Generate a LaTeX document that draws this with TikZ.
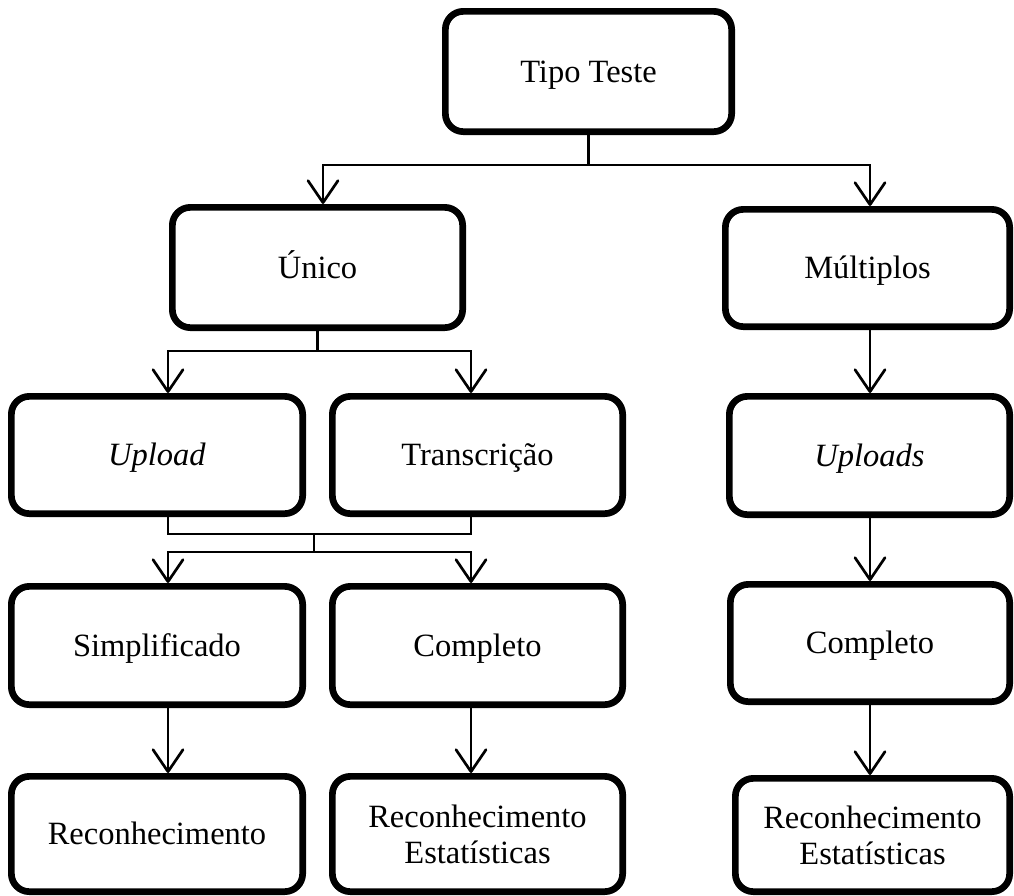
\documentclass[tikz,border=0pt]{standalone}
\usepackage{fontspec}
\setmainfont{Liberation Serif}
\usetikzlibrary{arrows.meta,calc}
\begin{document}
\begin{tikzpicture}[x=1pt,y=-1pt,
  box/.style={draw=black, fill=white, line width=6.7pt, rounded corners=18pt,
    align=center, inner sep=0pt, font=\fontsize{32.5}{36}\selectfont},
  oneline/.style={text height=28pt, text depth=7pt},
  boxsize/.style 2 args={minimum width=#1pt, minimum height=#2pt},
  link/.style={line width=2.7pt},
  flow/.style={link, -{Straight Barb[length=22pt,width=30pt,round]}},
]
\useasboundingbox (0,0) rectangle (1014,895);
\fill[white] (0,0) rectangle (1014,895);

% columns used by the connectors
\coordinate (ax) at (168,0);
\coordinate (bx) at (471,0);
\coordinate (ux) at (323,0);
\coordinate (mx) at (314,0);
\coordinate (rx) at (870,0);

% boxes
\node[box, oneline, boxsize={286.3}{120.3}] (tipo)    at (588.5,71.5) {Tipo Teste};
\node[box, oneline, boxsize={290.3}{120.3}] (unico)   at (317.5,267.5) {Único};
\node[box, oneline, boxsize={284.3}{117.3}] (mult)    at (867.5,268) {Múltiplos};
\node[box, oneline, boxsize={291.3}{117.3}] (upload)  at (157,455) {\textit{Upload}};
\node[box, oneline, boxsize={290.3}{117.3}] (transc)  at (477.5,455) {Transcrição};
\node[box, oneline, boxsize={280.3}{118.3}] (uploads) at (869.5,455.5) {\textit{Uploads}};
\node[box, oneline, boxsize={291.3}{118.3}] (simp)    at (157,645.5) {Simplificado};
\node[box, oneline, boxsize={290.3}{118.3}] (compB)   at (477.5,645.5) {Completo};
\node[box, oneline, boxsize={279.3}{117.3}] (compR)   at (870,643) {Completo};
\node[box, oneline, boxsize={291.3}{115.3}] (recA)    at (157,834) {Reconhecimento};
\node[box, boxsize={290.3}{115.3}] (recB)    at (477.5,834) {Reconhecimento\\Estatísticas};
\node[box, boxsize={274.3}{113.3}] (recR)    at (872.5,835) {Reconhecimento\\Estatísticas};

% Tipo Teste splits into the two branches
\draw[link] (tipo.south) -- ++(0,30) coordinate (tjoin);
\draw[flow] (tjoin) -| (unico.north -| ux);
\draw[flow] (tjoin) -| (mult.north -| rx);

% Único branch
\draw[link] (unico.south) -- ++(0,20) coordinate (ujoin);
\draw[flow] (ujoin) -| (upload.north -| ax);
\draw[flow] (ujoin) -| (transc.north -| bx);

% Upload and Transcrição merge, then split again
\coordinate (m1) at ($(upload.south)+(0,17)$);
\draw[link] (upload.south -| ax) |- (m1 -| bx) -- (transc.south -| bx);
\draw[link] (m1 -| mx) -- ++(0,18) coordinate (m2);
\draw[flow] (m2) -| (simp.north -| ax);
\draw[flow] (m2) -| (compB.north -| bx);

\draw[flow] (simp.south -| ax) -- (recA.north -| ax);
\draw[flow] (compB.south -| bx) -- (recB.north -| bx);

% Múltiplos branch
\draw[flow] (mult.south -| rx) -- (uploads.north -| rx);
\draw[flow] (uploads.south -| rx) -- (compR.north -| rx);
\draw[flow] (compR.south -| rx) -- (recR.north -| rx);
\end{tikzpicture}
\end{document}
